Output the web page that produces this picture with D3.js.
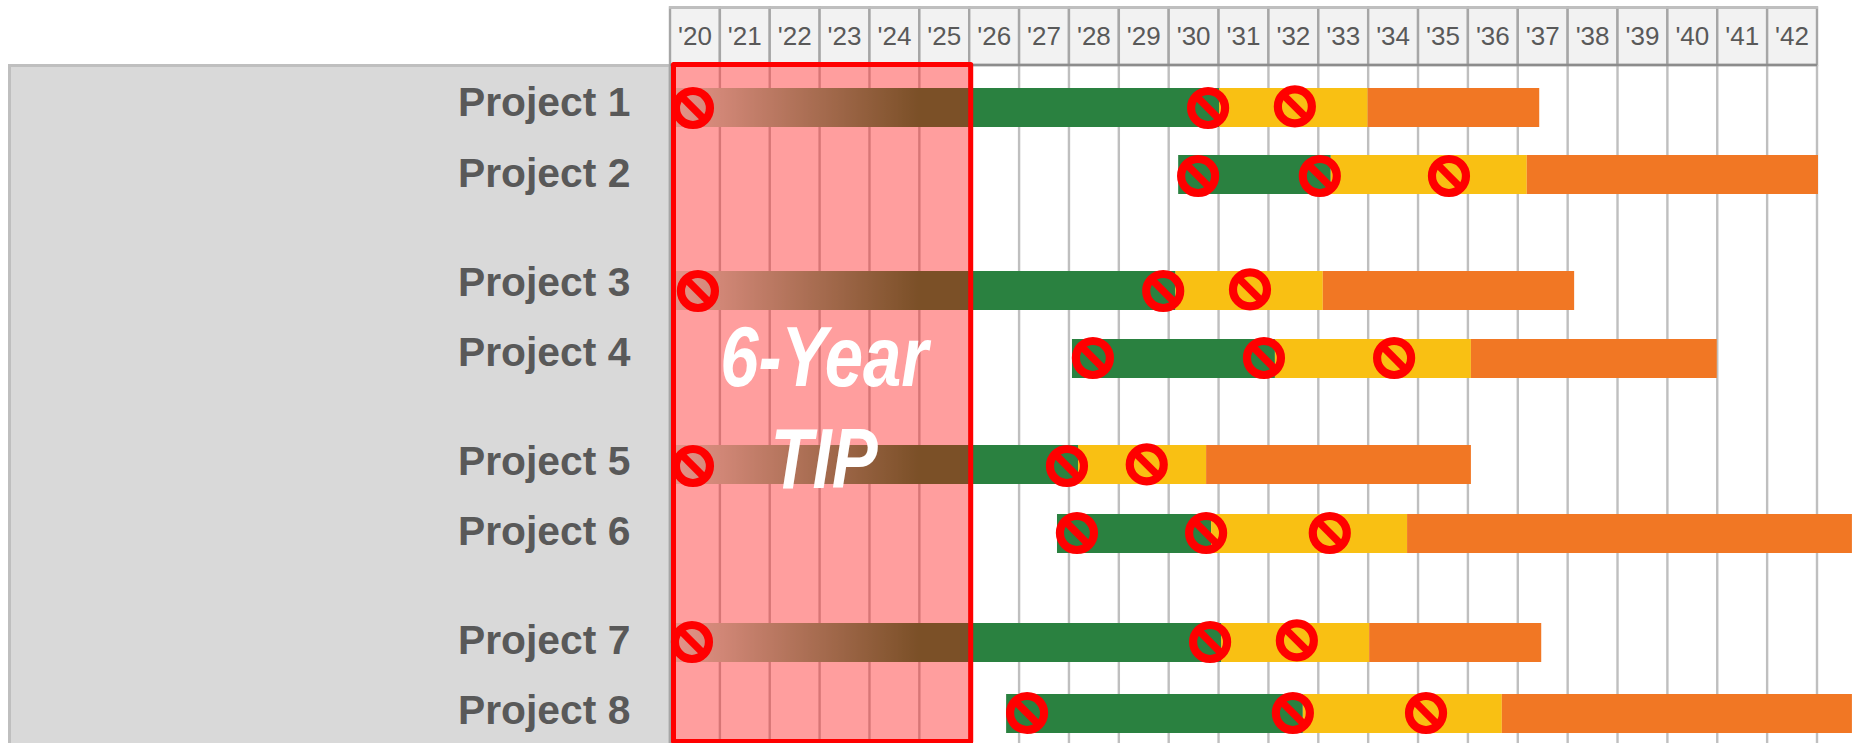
<!DOCTYPE html>
<html><head><meta charset="utf-8">
<style>html,body{margin:0;padding:0;background:#fff;overflow:hidden}svg{display:block}text{font-family:"Liberation Sans",Arial,sans-serif}</style>
<script src="https://cdn.jsdelivr.net/npm/d3@7"></script>
</head><body><svg id="c" width="1852" height="743"></svg>
<script>
// ---------- data (years) ----------
const years = d3.range(2020, 2043);
const yearLabels = ["'20","'21","'22","'23","'24","'25","'26","'27","'28","'29","'30","'31","'32","'33","'34","'35","'36","'37","'38","'39","'40","'41","'42"];
const projects = ["Project 1","Project 2","Project 3","Project 4","Project 5","Project 6","Project 7","Project 8"];
const greenStart  = [2020.1,2030.19,2020.1,2028.06,2020.1,2027.76,2020.1,2026.74];
const yellowStart = [2031.01,2033.25,2030.13,2032.13,2028.18,2030.85,2031.05,2032.69];
const orangeStart = [2033.99,2037.18,2033.09,2036.06,2030.75,2034.78,2034.02,2036.68];
const barEnd      = [2037.43,2043.02,2038.13,2040.99,2036.06,2043.7,2037.47,2043.7];
const inTip       = [true,false,true,false,true,false,true,false];
const marker1 = [2020.46,2030.59,2020.56,2028.48,2020.46,2028.16,2020.44,2027.16];
const marker2 = [2030.79,2033.03,2029.89,2031.91,2027.96,2030.75,2030.83,2032.49];
const marker3 = [2032.53,2035.62,2031.63,2034.52,2029.56,2033.23,2032.57,2035.16];
const tipRange = [2020.07, 2026.03];

// ---------- layout ----------
const W = 1852, H = 743, headTop = 7.5, headBot = 65;
const x = d3.scaleLinear().domain([2020, 2043]).range([670, 1817]);
const yTop = d3.scaleOrdinal().domain(projects).range([88,155,271,339,445,514,623,694]);
const yMark = d3.scaleOrdinal().domain(projects).range([108,176,291,358,466,533,642,713]);
const yText = d3.scaleOrdinal().domain(projects).range([116,187,296,366,475,545,654,724]);
const barH = 39, markR = 17, markW = 8.2;
const svg = d3.select("#c");
const defs = svg.append("defs");

// fade used by the part of a bar inside the TIP window
const fade = defs.append("linearGradient").attr("id","fade").attr("gradientUnits","userSpaceOnUse")
  .attr("x1",x(2020)).attr("x2",x(2025)).attr("y1",0).attr("y2",0);
fade.append("stop").attr("offset",0).attr("stop-color","#d8f0e0");
fade.append("stop").attr("offset",1).attr("stop-color","#2a8140");

// left panel
svg.append("rect").attr("x",9.5).attr("y",65.5).attr("width",x(2020)-9.5).attr("height",H)
  .attr("fill","#d9d9d9").attr("stroke","#bfbfbf").attr("stroke-width",3);

// header cells
svg.append("g").selectAll("rect").data(years).join("rect")
  .attr("x",d=>x(d)).attr("y",headTop).attr("width",d=>x(d+1)-x(d)).attr("height",headBot-headTop)
  .attr("fill","#f2f2f2").attr("stroke","#a6a6a6").attr("stroke-width",2.4);
svg.append("line").attr("x1",x(2020)-1).attr("x2",x(2043)+1).attr("y1",headTop).attr("y2",headTop).attr("stroke","#bfbfbf").attr("stroke-width",2.4);
svg.append("g").selectAll("text").data(yearLabels).join("text")
  .attr("x",(d,i)=>x(years[i]+0.5)).attr("y",45).attr("text-anchor","middle")
  .attr("font-size",26).attr("fill","#595959").text(d=>d);

// grid
svg.append("g").selectAll("line").data(d3.range(2020,2044)).join("line")
  .attr("x1",d=>x(d)).attr("x2",d=>x(d)).attr("y1",headBot).attr("y2",H)
  .attr("stroke",(d)=>d===2020?"#a6a6a6":"#bfbfbf").attr("stroke-width",2.4);
svg.append("line").attr("x1",x(2020)).attr("x2",x(2043)).attr("y1",headBot).attr("y2",headBot).attr("stroke","#8c8c8c").attr("stroke-width",2.4);

// bars
const rows = svg.append("g").selectAll("g").data(projects).join("g");
rows.append("rect").attr("x",(d,i)=>x(greenStart[i])).attr("y",d=>yTop(d))
  .attr("width",(d,i)=>x(yellowStart[i])-x(greenStart[i])).attr("height",barH)
  .attr("fill",(d,i)=>inTip[i]?"url(#fade)":"#2a8140");
rows.append("rect").attr("x",(d,i)=>x(yellowStart[i])).attr("y",d=>yTop(d))
  .attr("width",(d,i)=>x(orangeStart[i])-x(yellowStart[i])).attr("height",barH).attr("fill","#f9c013");
rows.append("rect").attr("x",(d,i)=>x(orangeStart[i])).attr("y",d=>yTop(d))
  .attr("width",(d,i)=>x(barEnd[i])-x(orangeStart[i])).attr("height",barH).attr("fill","#f17724");
// solid green past the TIP window edge
rows.filter((d,i)=>inTip[i]).append("rect").attr("x",x(tipRange[1])).attr("y",d=>yTop(d))
  .attr("width",(d)=>{const i=projects.indexOf(d);return x(yellowStart[i])-x(tipRange[1]);}).attr("height",barH).attr("fill","#2a8140");

// project labels
svg.append("g").selectAll("text").data(projects).join("text")
  .attr("x",458).attr("y",d=>yText(d)).attr("font-size",40.8).attr("font-weight","bold")
  .attr("fill","#595959").text(d=>d);

// TIP window
svg.append("rect").attr("x",x(tipRange[0])).attr("y",64.5).attr("width",x(tipRange[1])-x(tipRange[0])).attr("height",677)
  .attr("fill","#ff0000").attr("fill-opacity",0.38).attr("stroke","#ff0000").attr("stroke-width",5).attr("stroke-linejoin","round");

// no-go markers
const marks = projects.flatMap((p,i)=>[marker1[i],marker2[i],marker3[i]].map((v,k)=>({p,v,k,i})));
const mg = svg.append("g").selectAll("g").data(marks).join("g")
  .attr("transform",d=>`translate(${x(d.v)},${yMark(d.p)+((d.k===2&&d.i%2===0)?-1.6:0)})`);
mg.append("circle").attr("r",markR).attr("fill","none").attr("stroke","#ff0000").attr("stroke-width",markW);
mg.append("line").attr("x1",-markR*0.71).attr("y1",-markR*0.71).attr("x2",markR*0.71).attr("y2",markR*0.71)
  .attr("stroke","#ff0000").attr("stroke-width",7.4);

// TIP caption
[["6-Year",386],["TIP",488]].forEach(([t,yy])=>{
  svg.append("text").attr("transform",`translate(${x(2023.09)},${yy}) scale(0.81,1)`)
    .attr("text-anchor","middle").attr("font-size",85).attr("font-weight","bold").attr("font-style","italic")
    .attr("fill","#fff").text(t);
});
</script></body></html>
